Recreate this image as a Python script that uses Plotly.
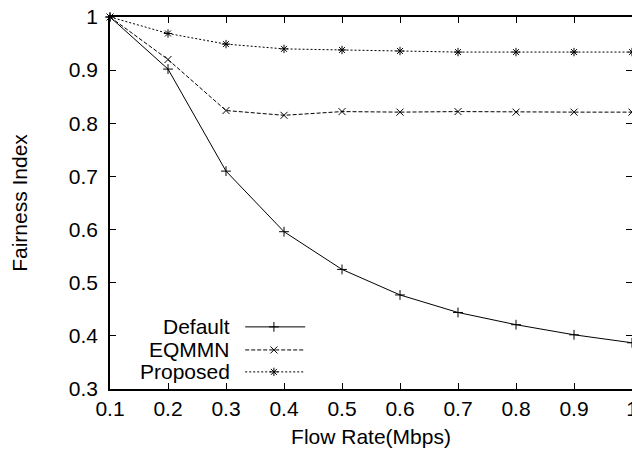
import plotly.graph_objects as go

flow_rate = [0.1, 0.2, 0.3, 0.4, 0.5, 0.6, 0.7, 0.8, 0.9, 1.0]
default_vals = [1.0, 0.902, 0.710, 0.596, 0.525, 0.477, 0.444, 0.421, 0.402, 0.387]
eqmmn_vals = [1.0, 0.920, 0.824, 0.815, 0.822, 0.821, 0.822, 0.821, 0.821, 0.821]
proposed_vals = [1.0, 0.969, 0.949, 0.940, 0.938, 0.936, 0.934, 0.934, 0.934, 0.934]
series_names = ["Default", "EQMMN", "Proposed"]
x_ticks = [0.1, 0.2, 0.3, 0.4, 0.5, 0.6, 0.7, 0.8, 0.9, 1.0]
x_tick_text = ["0.1", "0.2", "0.3", "0.4", "0.5", "0.6", "0.7", "0.8", "0.9", "1"]
y_ticks = [0.3, 0.4, 0.5, 0.6, 0.7, 0.8, 0.9, 1.0]
y_tick_text = ["0.3", "0.4", "0.5", "0.6", "0.7", "0.8", "0.9", "1"]

styles = [
    dict(dash="solid", symbol="cross-thin-open"),
    dict(dash="4px,2px", symbol="x-thin-open"),
    dict(dash="2px,2px", symbol="asterisk-open"),
]
data = [default_vals, eqmmn_vals, proposed_vals]
FS = 21

fig = go.Figure()
for name, vals, st in zip(series_names, data, styles):
    fig.add_trace(go.Scatter(
        x=flow_rate, y=vals, mode="lines+markers", name=name,
        line=dict(color="black", width=1, dash=st["dash"]),
        marker=dict(symbol=st["symbol"], size=7, color="black",
                    line=dict(color="black", width=1)),
        showlegend=False, cliponaxis=False,
    ))

# gnuplot-style key drawn on an overlay axis spanning [0,1]
key_y = [0.167, 0.105, 0.046]
key_x0, key_x1, key_xm, key_text_x = 0.259, 0.374, 0.314, 0.234
for name, ky, st in zip(series_names, key_y, styles):
    fig.add_trace(go.Scatter(
        x=[key_x0, key_xm, key_x1], y=[ky, ky, ky], mode="lines",
        line=dict(color="black", width=1, dash=st["dash"]),
        xaxis="x2", yaxis="y2", showlegend=False, hoverinfo="skip",
    ))
    fig.add_trace(go.Scatter(
        x=[key_xm], y=[ky], mode="markers",
        marker=dict(symbol=st["symbol"], size=7, color="black",
                    line=dict(color="black", width=1)),
        xaxis="x2", yaxis="y2", showlegend=False, hoverinfo="skip",
    ))
    fig.add_annotation(x=key_text_x, y=ky, xref="x2", yref="y2", text=name,
                       showarrow=False, xanchor="right", yanchor="middle",
                       font=dict(size=FS, color="black"))

axis_common = dict(
    showline=True, linecolor="black", linewidth=1.5, mirror="allticks",
    ticks="inside", ticklen=6, tickcolor="black", tickwidth=1,
    showgrid=False, zeroline=False, ticklabeloverflow="allow",
    automargin=False,
    tickfont=dict(size=FS, color="black"),
)

# page body has an 8px margin, so the figure is shrunk/shifted to compensate
fig.update_layout(
    width=632, height=449,
    paper_bgcolor="white", plot_bgcolor="white",
    font=dict(family="Liberation Sans, Arial, sans-serif", color="black"),
    margin=dict(l=102, r=8, t=9, b=68, autoexpand=False),
    xaxis=dict(range=[0.1, 1.0], tickvals=x_ticks, ticktext=x_tick_text,
               ticklabelstandoff=0,
               title=dict(text="Flow Rate(Mbps)", font=dict(size=FS), standoff=10),
               **axis_common),
    yaxis=dict(range=[0.3, 1.0], tickvals=y_ticks, ticktext=y_tick_text,
               ticklabelstandoff=6,
               title=dict(text="Fairness Index", font=dict(size=FS), standoff=36),
               **axis_common),
    xaxis2=dict(range=[0, 1], overlaying="x", visible=False, fixedrange=True),
    yaxis2=dict(range=[0, 1], overlaying="y", visible=False, fixedrange=True),
)

fig.write_html("out.html")
